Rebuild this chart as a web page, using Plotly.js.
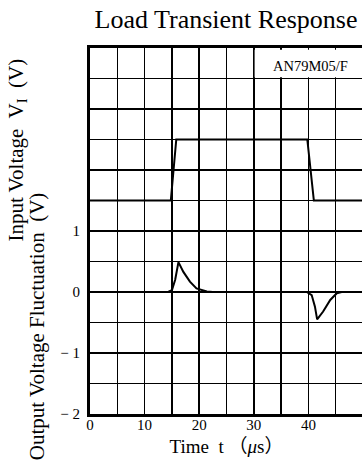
<!DOCTYPE html>
<html><head><meta charset="utf-8">
<script src="https://cdn.plot.ly/plotly-3.0.1.min.js"></script>
<style>html,body{margin:0;padding:0;overflow:hidden;background:#fff}#chart{width:364px;height:466px}</style>
</head><body><div id="chart"></div>
<script>
// Input voltage step (drawn in the upper part of the shared grid)
const inputTime  = [0, 14.8, 15.8, 39.8, 41.0, 50];
const inputLevel = [1.5, 1.5, 2.5, 2.5, 1.5, 1.5];
// Output voltage fluctuation (V)
const outputTime  = [0, 14.3, 15.0, 15.6, 16.2, 17.1, 18.3, 19.5, 21.4, 22.5, 39.7, 40.6, 41.2, 41.6, 42.7, 44.0, 45.2, 46.1, 50];
const outputLevel = [0, 0, 0.03, 0.2, 0.49, 0.33, 0.17, 0.06, 0.01, 0, 0, -0.05, -0.24, -0.45, -0.32, -0.13, -0.02, 0, 0];
// Labelled ticks
const xTickVals = [0, 10, 20, 30, 40, 50];
const xTickText = ["0", "10", "20", "30", "40", "50"];
const yTickVals = [-2, -1, 0, 1];
const yTickText = ["\u2212\u00a02", "\u2212\u00a01", "0", "1"];
// Grid spacing
const xGridStep = 5;
const yGridStep = 0.5;

const serif = "Liberation Serif, Times New Roman, serif";

const traces = [
  {x: inputTime, y: inputLevel, mode: "lines", line: {color: "#000", width: 2}, hoverinfo: "skip"},
  {x: outputTime, y: outputLevel, mode: "lines", line: {color: "#000", width: 2}, hoverinfo: "skip"}
];

const axisCommon = {
  showgrid: true, gridcolor: "#000", gridwidth: 1.5,
  showline: true, linecolor: "#000", linewidth: 3, mirror: true,
  zeroline: false, ticks: "", tickmode: "array",
  tickfont: {family: serif, size: 15, color: "#000"},
  fixedrange: true
};

const layout = {
  width: 364, height: 466,
  margin: {l: 90, r: 1, t: 48, b: 52},
  paper_bgcolor: "#fff", plot_bgcolor: "#fff",
  showlegend: false,
  font: {family: serif, color: "#000"},
  title: {text: "Load Transient Response", font: {family: serif, size: 26, color: "#000"},
          x: 0.621, xanchor: "center", y: 0.959, yanchor: "middle"},
  xaxis: Object.assign({}, axisCommon, {
    range: [0, 50], tickvals: xTickVals, ticktext: xTickText, ticklabelstandoff: -5,
    minor: {tickmode: "linear", tick0: 0, dtick: xGridStep, showgrid: true, gridcolor: "#000", gridwidth: 1.5, ticks: ""},
    title: {text: "Time  t \uff08<i>\u03bc</i>s\uff09", font: {family: serif + ", Noto Sans CJK JP", size: 19, color: "#000"}, standoff: 8}
  }),
  yaxis: Object.assign({}, axisCommon, {
    range: [-2, 4], tickvals: yTickVals, ticktext: yTickText, ticklabelstandoff: 4,
    minor: {tickmode: "linear", tick0: 0, dtick: yGridStep, showgrid: true, gridcolor: "#000", gridwidth: 1.5, ticks: ""}
  }),
  shapes: [
    {type: "rect", xref: "x", yref: "y", x0: 30.15, x1: 50, y0: 3.52, y1: 3.97,
     fillcolor: "#fff", line: {width: 0}, layer: "above"}
  ],
  annotations: [
    {text: "AN79M05/F", xref: "x", yref: "y", x: 40.4, y: 3.70, xanchor: "center", yanchor: "middle", showarrow: false,
     font: {family: serif, size: 14.5, color: "#000"}},
    {text: "Input Voltage  V<sub>I</sub>  (V)", xref: "paper", yref: "paper", textangle: -90,
     x: -0.267, y: 0.72, xanchor: "center", yanchor: "middle", showarrow: false,
     font: {family: serif, size: 21, color: "#000"}},
    {text: "Output Voltage Fluctuation  (V)", xref: "paper", yref: "paper", textangle: -90,
     x: -0.194, y: 0.24, xanchor: "center", yanchor: "middle", showarrow: false,
     font: {family: serif, size: 21, color: "#000"}}
  ]
};

Plotly.newPlot("chart", traces, layout, {displayModeBar: false, staticPlot: true});
</script>
</body></html>
